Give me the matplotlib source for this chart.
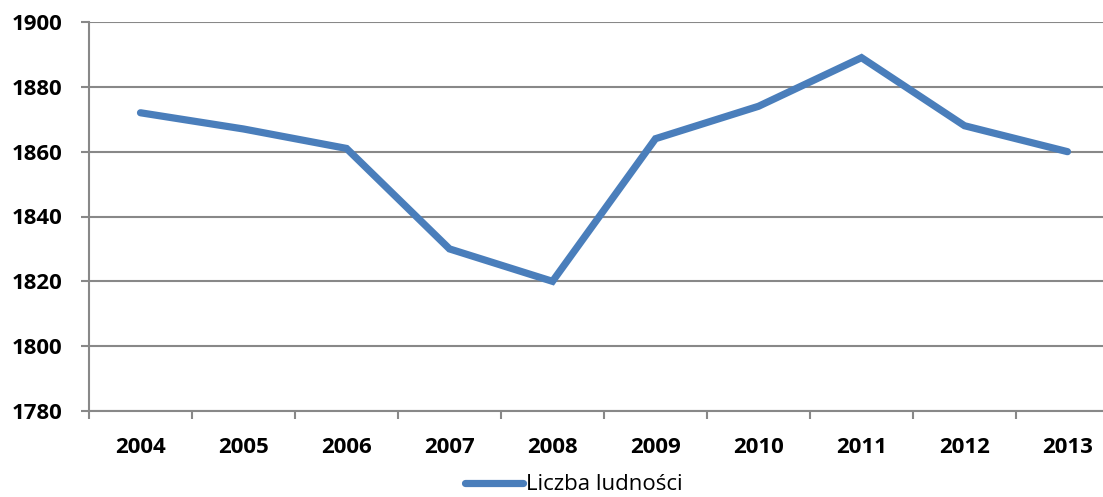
import matplotlib
matplotlib.use("Agg")
import matplotlib.pyplot as plt

years = ["2004", "2005", "2006", "2007", "2008", "2009", "2010", "2011", "2012", "2013"]
population = [1872, 1867, 1861, 1830, 1820, 1864, 1874, 1889, 1868, 1860]
series_name = "Liczba ludności"

W, H = 1103, 497
fig = plt.figure(figsize=(W / 100, H / 100), dpi=100)
plt.rcParams["font.family"] = ["Open Sans", "DejaVu Sans"]

left, right, top, bottom = 89, 1119, 22, 411
ax = fig.add_axes([left / W, 1 - bottom / H, (right - left) / W, (bottom - top) / H])

line_color = "#4A7EBB"
grid_color = "#888888"

x = list(range(len(years)))
line, = ax.plot(x, population, color=line_color, lw=5.2, solid_capstyle="round",
                solid_joinstyle="miter", zorder=3, label=series_name)

ax.set_xlim(-0.5, len(years) - 0.5)
ax.set_ylim(1780, 1900)
ax.set_yticks(range(1780, 1901, 20))
ax.yaxis.grid(True, color=grid_color, lw=1.5)
ax.set_axisbelow(True)

for s in ("top", "right"):
    ax.spines[s].set_visible(False)
for s in ("left", "bottom"):
    ax.spines[s].set_color(grid_color)
    ax.spines[s].set_linewidth(1.5)

# category labels centred, tick marks on category boundaries
ax.set_xticks(x)
ax.set_xticklabels(years, fontsize=16, fontweight="bold")
ax.tick_params(axis="x", which="major", length=0, pad=19)
ax.set_xticks([i - 0.5 for i in range(len(years) + 1)], minor=True)
ax.tick_params(axis="x", which="minor", length=6, width=1.5, color=grid_color)

ax.tick_params(axis="y", length=6, width=1.5, color=grid_color, pad=13)
for lab in ax.get_yticklabels():
    lab.set_fontsize(16)
    lab.set_fontweight("bold")

fig.legend(handles=[line], loc="center", bbox_to_anchor=(574 / W, 1 - 485 / H),
           frameon=False, fontsize=16, handlelength=2.6, handletextpad=0.15,
           borderpad=0)

fig.savefig("out.png", dpi=100)
